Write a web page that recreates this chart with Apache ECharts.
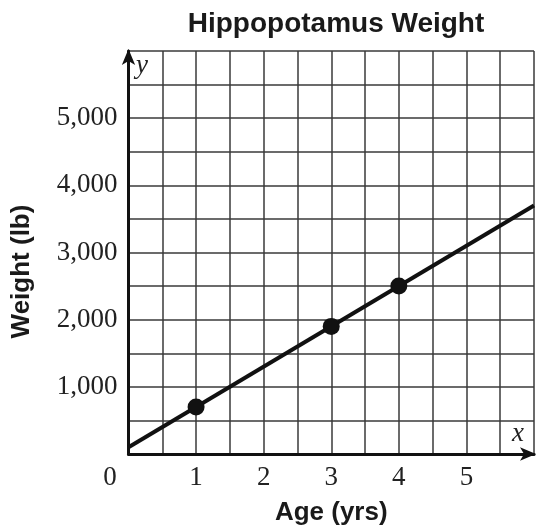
<!DOCTYPE html>
<html>
<head>
    <meta charset="utf-8">
    <title>Hippopotamus Weight</title>
    <script src="https://cdn.jsdelivr.net/npm/echarts@6/dist/echarts.min.js"></script>
    <style>
        html, body { margin: 0; padding: 0; background: #fff; }
        #chart { width: 537px; height: 531px; }
    </style>
</head>
<body>
    <div id="chart"></div>
<script>
    // line endpoints (age, weight)
    var lineAges = [0, 6];
    var lineWeights = [100, 3700];
    // plotted points
    var pointAges = [1, 3, 4];
    var pointWeights = [700, 1900, 2500];
    // tick labels
    var xTickLabels = ['1', '2', '3', '4', '5'];
    var yTickLabels = ['1,000', '2,000', '3,000', '4,000', '5,000'];

    var serif = '"Liberation Serif", "DejaVu Serif", serif';
    var sans = '"Liberation Sans", Arial, sans-serif';

    var chart = echarts.init(document.getElementById('chart'));

    chart.setOption({
        animation: false,
        title: {
            text: 'Hippopotamus Weight',
            left: 331, top: 5, textAlign: 'center',
            textStyle: { fontFamily: sans, fontWeight: 'bold', fontSize: 28, color: '#1a1a1a' }
        },
        grid: { left: 128.5, right: -3, top: 51, bottom: 71 },
        xAxis: {
            type: 'value', min: 0, max: 6, interval: 0.5,
            name: 'Age (yrs)', nameLocation: 'middle', nameGap: 46,
            nameTextStyle: { fontFamily: sans, fontWeight: 'bold', fontSize: 26, color: '#1a1a1a' },
            axisLine: { lineStyle: { color: '#111', width: 3 }, symbol: ['none', 'arrow'], symbolSize: [10, 16], symbolOffset: [0, 2] },
            axisTick: { show: false },
            splitLine: { lineStyle: { color: '#3a3a3a', width: 1.5 } },
            axisLabel: {
                margin: 10, fontFamily: serif, fontSize: 27, color: '#222',
                formatter: function (v) {
                    if (v === 0) return '{z|0}';
                    var i = xTickLabels.indexOf(String(v));
                    return i >= 0 ? xTickLabels[i] : '';
                },
                rich: { z: { fontFamily: serif, fontSize: 27, color: '#222', padding: [0, 37, 0, 0] } }
            }
        },
        yAxis: {
            type: 'value', min: 0, max: 6000, interval: 500,
            name: 'Weight (lb)', nameLocation: 'middle', nameGap: 94,
            nameTextStyle: { fontFamily: sans, fontWeight: 'bold', fontSize: 26, color: '#1a1a1a', padding: [0, 38, 0, 0] },
            axisLine: { lineStyle: { color: '#111', width: 3 }, symbol: ['none', 'arrow'], symbolSize: [10, 16], symbolOffset: [0, 2] },
            axisTick: { show: false },
            splitLine: { lineStyle: { color: '#3a3a3a', width: 1.5 } },
            axisLabel: {
                margin: 11, fontFamily: serif, fontSize: 27, color: '#222',
                formatter: function (v) {
                    if (v % 1000 !== 0 || v === 0) return '';
                    return yTickLabels[v / 1000 - 1] || '';
                }
            }
        },
        graphic: [
            { type: 'text', left: 136, top: 52, style: { text: 'y', font: 'italic 27px ' + serif, fill: '#222' } },
            { type: 'text', left: 512, top: 420, style: { text: 'x', font: 'italic 27px ' + serif, fill: '#222' } }
        ],
        series: [
            {
                type: 'line',
                data: lineAges.map(function (a, i) { return [a, lineWeights[i]]; }),
                showSymbol: false,
                lineStyle: { color: '#111', width: 4 },
                z: 3
            },
            {
                type: 'scatter',
                data: pointAges.map(function (a, i) { return [a, pointWeights[i]]; }),
                symbolSize: 17,
                itemStyle: { color: '#111', opacity: 1 },
                z: 4
            }
        ]
    });
</script>
</body>
</html>
